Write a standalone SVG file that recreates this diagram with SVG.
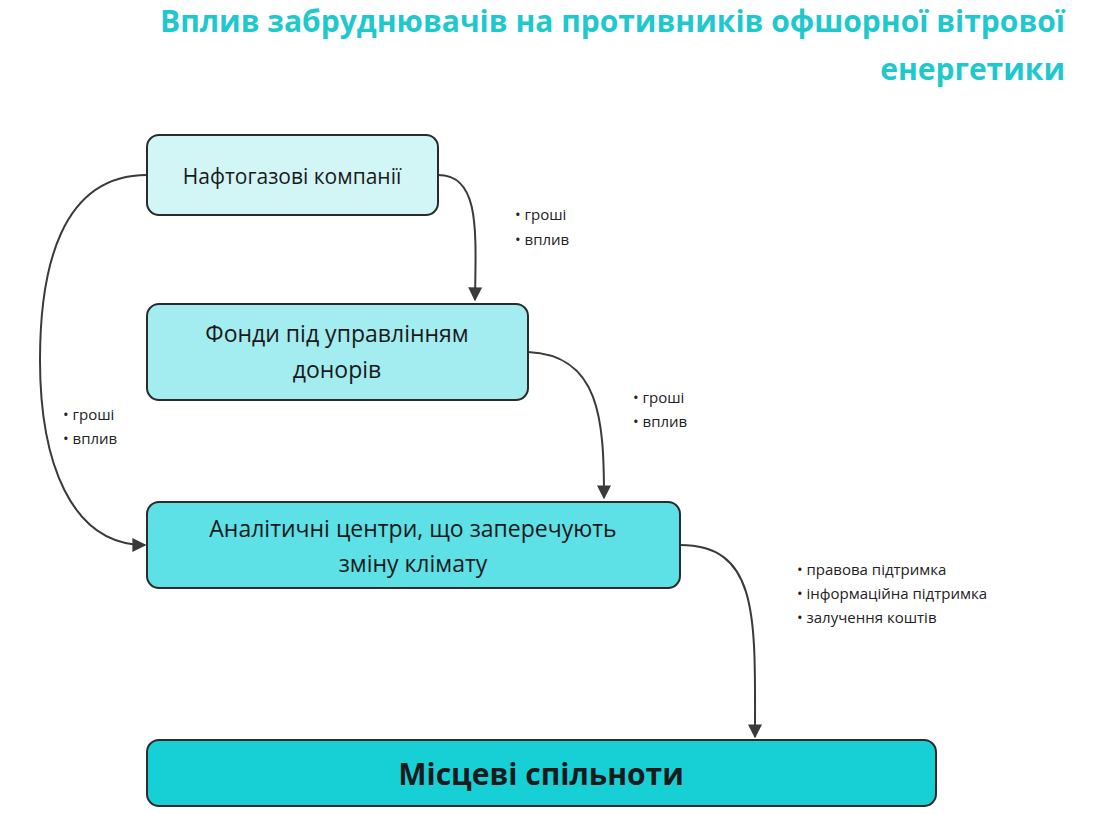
<svg xmlns="http://www.w3.org/2000/svg" width="1102" height="814" viewBox="0 0 1102 814">
<style>
.t{font-family:"Open Sans","Noto Sans",sans-serif;fill:#1a1a1a}
.n{stroke:#2b2b2b;stroke-width:2}
.c{fill:none;stroke:#3a3a3a;stroke-width:2;marker-end:url(#a)}
.l{font-family:"Open Sans","Noto Sans",sans-serif;font-size:15px;fill:#222}
</style>
<defs><marker id="a" viewBox="0 0 10 10" refX="9" refY="5" markerWidth="7" markerHeight="7" orient="auto"><path d="M0,0L10,5L0,10z" fill="#3a3a3a"/></marker></defs>
<rect width="1102" height="814" fill="#fff"/>
<g id="title" font-family="'Open Sans','Noto Sans',sans-serif" font-weight="bold" font-size="30" fill="#1ec8cc" text-anchor="end">
<text x="1065" y="32">Вплив забруднювачів на противників офшорної вітрової</text>
<text x="1065" y="80">енергетики</text>
</g>
<g id="connectors">
<path class="c" d="M438,175 C480,175 476,230 475,300"/>
<path class="c" d="M528,352 C600,355 604,420 604,498"/>
<path class="c" d="M147,175 C60,175 40,270 40,360 C40,460 70,545 145,545"/>
<path class="c" d="M680,545 C760,545 755,620 755,737"/>
<g class="l">
<text x="515" y="220">•  гроші</text><text x="515" y="245">•  вплив</text>
<text x="633" y="403">•  гроші</text><text x="633" y="427">•  вплив</text>
<text x="63" y="420">•  гроші</text><text x="63" y="444">•  вплив</text>
<text x="797" y="575">•  правова підтримка</text><text x="797" y="599">•  інформаційна підтримка</text><text x="797" y="623">•  залучення коштів</text>
</g>
</g>
<g id="n1"><rect class="n" x="147" y="135" width="291" height="80" rx="12" fill="#d2f5f6"/><text class="t" x="292" y="184" font-size="21" text-anchor="middle">Нафтогазові компанії</text></g>
<g id="n2"><rect class="n" x="147" y="304" width="381" height="96" rx="12" fill="#a3ecef"/><text class="t" x="337" y="342" font-size="23" text-anchor="middle">Фонди під управлінням</text><text class="t" x="337" y="378" font-size="23" text-anchor="middle">донорів</text></g>
<g id="n3"><rect class="n" x="147" y="502" width="533" height="86" rx="12" fill="#5de0e6"/><text class="t" x="413" y="537" font-size="23" text-anchor="middle">Аналітичні центри, що заперечують</text><text class="t" x="413" y="572" font-size="23" text-anchor="middle">зміну клімату</text></g>
<g id="n4"><rect class="n" x="147" y="740" width="789" height="66" rx="12" fill="#17d0d6"/><text class="t" x="541" y="785" font-size="30" font-weight="bold" text-anchor="middle">Місцеві спільноти</text></g>
</svg>
